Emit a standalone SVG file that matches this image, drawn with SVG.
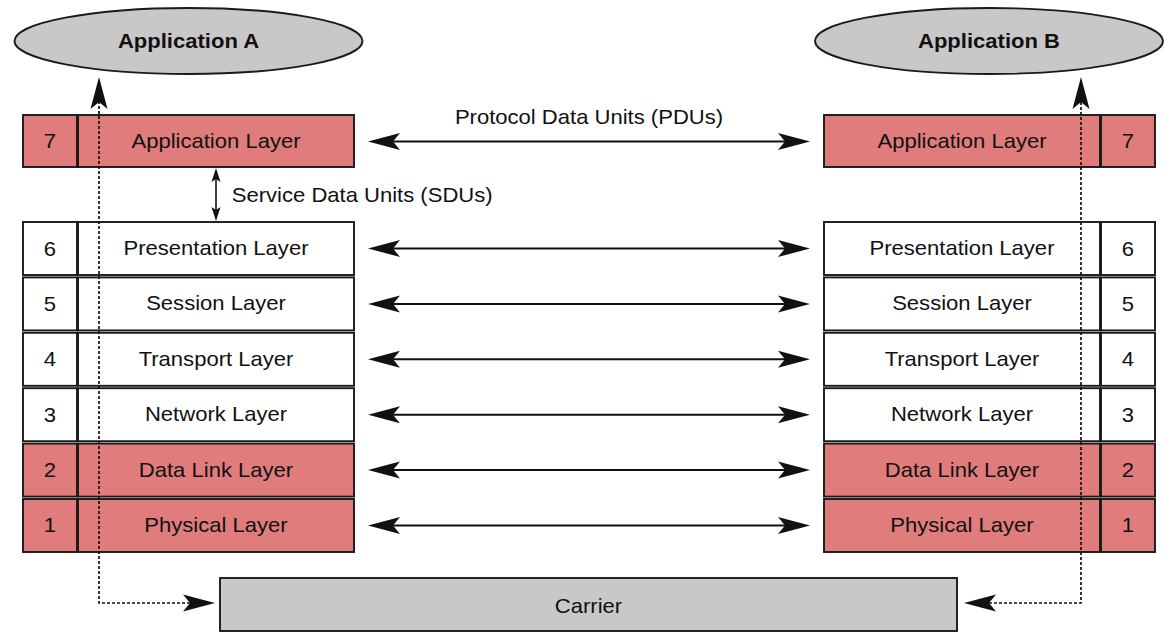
<svg xmlns="http://www.w3.org/2000/svg" width="1165" height="632" viewBox="0 0 1165 632">
<style>
text{font-family:"Liberation Sans",Arial,Helvetica,sans-serif;font-size:21px;fill:#111;text-anchor:middle;transform-box:fill-box;transform-origin:center;transform:scaleX(1.05)}
.b{font-weight:bold}
.l{text-anchor:start}
.box{stroke:#1a1a1a;stroke-width:1.9}
.red{fill:#E07C7C}
.wht{fill:#fff}
.gry{fill:#C8C8C8}
.arr{stroke:#111;stroke-width:2;fill:none;marker-start:url(#ah);marker-end:url(#ah)}
.dot{stroke:#111;stroke-width:1.7;fill:none;stroke-dasharray:3 2;marker-start:url(#ah);marker-end:url(#ah)}
</style>
<defs>
<marker id="ah" markerUnits="userSpaceOnUse" viewBox="-10 -10 40 20" refX="0" refY="0" markerWidth="40" markerHeight="20" orient="auto-start-reverse" overflow="visible">
<path d="M25,0 L-7,-8.5 L0,0 L-7,8.5 Z" fill="#111"/>
</marker>
<marker id="sh" markerUnits="userSpaceOnUse" viewBox="-5 -5 20 10" refX="0" refY="0" markerWidth="20" markerHeight="10" orient="auto-start-reverse" overflow="visible">
<path d="M11,0 L-3,-4.5 L0,0 L-3,4.5 Z" fill="#111"/>
</marker>
</defs>

<g id="appA"><ellipse class="box gry" cx="188.5" cy="41" rx="174" ry="33"/><text class="b" x="188.5" y="48">Application A</text></g>
<g id="appB"><ellipse class="box gry" cx="989" cy="41" rx="174" ry="33"/><text class="b" x="989" y="48">Application B</text></g>

<g id="left-stack">
<g id="L7"><rect class="box red" x="23" y="115" width="54" height="52"/><rect class="box red" x="78" y="115" width="276" height="52"/><text x="50" y="148">7</text><text x="216" y="148">Application Layer</text></g>
<g id="L6"><rect class="box wht" x="23" y="222" width="54" height="53"/><rect class="box wht" x="78" y="222" width="276" height="53"/><text x="50" y="256">6</text><text x="216" y="255">Presentation Layer</text></g>
<g id="L5"><rect class="box wht" x="23" y="277.4" width="54" height="53"/><rect class="box wht" x="78" y="277.4" width="276" height="53"/><text x="50" y="311">5</text><text x="216" y="310">Session Layer</text></g>
<g id="L4"><rect class="box wht" x="23" y="332.8" width="54" height="53"/><rect class="box wht" x="78" y="332.8" width="276" height="53"/><text x="50" y="366">4</text><text x="216" y="366">Transport Layer</text></g>
<g id="L3"><rect class="box wht" x="23" y="388.2" width="54" height="53"/><rect class="box wht" x="78" y="388.2" width="276" height="53"/><text x="50" y="422">3</text><text x="216" y="421">Network Layer</text></g>
<g id="L2"><rect class="box red" x="23" y="443.6" width="54" height="53"/><rect class="box red" x="78" y="443.6" width="276" height="53"/><text x="50" y="477">2</text><text x="216" y="477">Data Link Layer</text></g>
<g id="L1"><rect class="box red" x="23" y="499" width="54" height="53"/><rect class="box red" x="78" y="499" width="276" height="53"/><text x="50" y="532">1</text><text x="216" y="532">Physical Layer</text></g>
</g>

<g id="right-stack">
<g id="R7"><rect class="box red" x="824" y="115" width="276" height="52"/><rect class="box red" x="1101" y="115" width="54" height="52"/><text x="962" y="148">Application Layer</text><text x="1128" y="148">7</text></g>
<g id="R6"><rect class="box wht" x="824" y="222" width="276" height="53"/><rect class="box wht" x="1101" y="222" width="54" height="53"/><text x="962" y="255">Presentation Layer</text><text x="1128" y="256">6</text></g>
<g id="R5"><rect class="box wht" x="824" y="277.4" width="276" height="53"/><rect class="box wht" x="1101" y="277.4" width="54" height="53"/><text x="962" y="310">Session Layer</text><text x="1128" y="311">5</text></g>
<g id="R4"><rect class="box wht" x="824" y="332.8" width="276" height="53"/><rect class="box wht" x="1101" y="332.8" width="54" height="53"/><text x="962" y="366">Transport Layer</text><text x="1128" y="366">4</text></g>
<g id="R3"><rect class="box wht" x="824" y="388.2" width="276" height="53"/><rect class="box wht" x="1101" y="388.2" width="54" height="53"/><text x="962" y="421">Network Layer</text><text x="1128" y="422">3</text></g>
<g id="R2"><rect class="box red" x="824" y="443.6" width="276" height="53"/><rect class="box red" x="1101" y="443.6" width="54" height="53"/><text x="962" y="477">Data Link Layer</text><text x="1128" y="477">2</text></g>
<g id="R1"><rect class="box red" x="824" y="499" width="276" height="53"/><rect class="box red" x="1101" y="499" width="54" height="53"/><text x="962" y="532">Physical Layer</text><text x="1128" y="532">1</text></g>
</g>

<g id="carrier"><rect class="box gry" x="220" y="578" width="737" height="53"/><text x="588.5" y="613">Carrier</text></g>

<g id="labels">
<text x="589" y="124">Protocol Data Units (PDUs)</text>
<text class="l" x="238" y="202">Service Data Units (SDUs)</text>
</g>

<g id="connectors">
<path class="arr" d="M393,141.5 H785"/>
<path class="arr" d="M393,248.5 H785"/>
<path class="arr" d="M393,303.9 H785"/>
<path class="arr" d="M393,359.3 H785"/>
<path class="arr" d="M393,414.7 H785"/>
<path class="arr" d="M393,470.1 H785"/>
<path class="arr" d="M393,525.5 H785"/>
<path d="M216,179 V210" stroke="#111" stroke-width="1.6" fill="none" marker-start="url(#sh)" marker-end="url(#sh)"/>
<path class="dot" d="M190,603 H99 V102"/>
<path class="dot" d="M989,603 H1081 V102"/>
</g>
</svg>
